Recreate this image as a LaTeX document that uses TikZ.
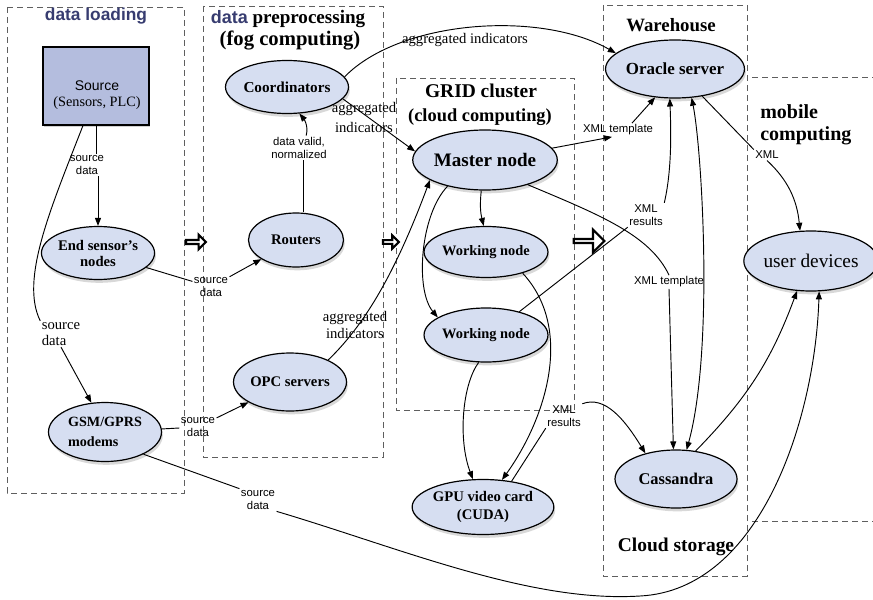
\documentclass[tikz,border=0pt]{standalone}
\usepackage{fontspec}
\setmainfont{Liberation Serif}
\setsansfont{Liberation Sans}
\usetikzlibrary{shapes.geometric,shapes.arrows,arrows.meta,shadows,calc}
\definecolor{elfill}{RGB}{214,222,241}
\definecolor{srcfill}{RGB}{180,189,222}
\definecolor{navy}{RGB}{55,60,112}
\definecolor{boxgray}{RGB}{95,95,95}
\tikzset{
  el/.style 2 args={ellipse, draw=black, line width=0.9pt, fill=elfill,
    minimum width=#1*0.75pt, minimum height=#2*0.75pt, inner sep=0pt, align=center,
    drop shadow={opacity=0.3, shadow xshift=1pt, shadow yshift=-2.5pt}},
  grp/.style={draw=boxgray, dash pattern=on 4.5pt off 3pt, line width=0.6pt},
  conn/.style={draw=black, line width=0.7pt},
  arr/.style={conn, -{Triangle[length=6pt,width=4.5pt]}},
  dbl/.style={conn, {Triangle[length=6pt,width=4.5pt]}-{Triangle[length=6pt,width=4.5pt]}},
  slbl/.style={font=\sffamily\fontsize{8.5}{10}\selectfont, align=center, inner sep=1pt},
  rlbl/.style={font=\fontsize{11}{13}\selectfont, align=center, inner sep=1pt},
  ttl/.style={inner sep=0pt, align=center},
  harr/.style={single arrow, draw=black, line width=1.6pt, fill=white, inner sep=0pt}
}
\begin{document}
\begin{tikzpicture}[x=0.75pt,y=-0.75pt]
\useasboundingbox (0,0) rectangle (873,599);
\fill[white] (0,0) rectangle (873,599);

% group boxes
\draw[grp] (7,7) rectangle (184,493);
\draw[grp] (203,6) rectangle (383,457);
\draw[grp] (396,78) rectangle (574,410);
\draw[grp] (603,5) rectangle (747,576);
\draw[grp] (752,77) -- (873,77);
\draw[grp] (752,521) -- (873,521);

% titles
\node[ttl, font=\sffamily\bfseries\fontsize{13}{15}\selectfont, text=navy] (t1) at (96,16) {data loading};
\node[ttl, font=\bfseries\fontsize{14.3}{17}\selectfont] (t2) at (288,19) {{\sffamily\fontsize{13.5}{17}\selectfont\color{navy}data} preprocessing};
\node[ttl, font=\bfseries\fontsize{15.5}{18}\selectfont] (t2b) at (290,41) {(fog computing)};
\node[ttl, font=\bfseries\fontsize{14.6}{17}\selectfont] (t3) at (481,91) {GRID cluster};
\node[ttl, font=\bfseries\fontsize{13.8}{17}\selectfont] (t3b) at (480,117) {(cloud computing)};
\node[ttl, font=\bfseries\fontsize{14.1}{17}\selectfont] (t4) at (671,25) {Warehouse};
\node[ttl, anchor=west, align=left, font=\bfseries\fontsize{15}{16.5}\selectfont] (t5) at (760,125) {mobile\\computing};
\node[ttl, font=\bfseries\fontsize{14.6}{17}\selectfont] (t6) at (676,547) {Cloud storage};

% hollow arrows
\node[harr, minimum height=15pt, minimum width=11pt, single arrow head extend=2.2pt] (h1) at (195,242) {};
\node[harr, minimum height=12pt, minimum width=10pt, single arrow head extend=2pt] (h2) at (390,242) {};
\node[harr, minimum height=23pt, minimum width=17pt, single arrow head extend=3.6pt] (h3) at (588,241) {};

% source
\node[draw=black, line width=0.8pt, fill=srcfill, minimum width=106*0.75pt, minimum height=78*0.75pt,
  drop shadow={opacity=0.35, shadow xshift=1pt, shadow yshift=-1.5pt}] (src) at (96,86) {};
\node[align=center, inner sep=0pt, font=\fontsize{10.7}{11.5}\selectfont] (srct) at (97,95)
  {{\sffamily\fontsize{10.5}{11.5}\selectfont Source}\\(Sensors, PLC)};

% ellipses
\node[el={107}{53}, font=\bfseries\fontsize{11}{12}\selectfont] (esn) at (98,253) {End sensor's\\nodes};
\node[el={113}{59}, align=left, font=\bfseries\fontsize{10.6}{15}\selectfont] (gsm) at (105,432) {GSM/GPRS\\modems};
\node[el={113}{53}, font=\bfseries\fontsize{11.4}{13}\selectfont] (coords) at (287,87) {Coordinators};
\node[el={95}{54}, font=\bfseries\fontsize{11}{13}\selectfont] (routers) at (296,240) {Routers};
\node[el={113}{58}, font=\bfseries\fontsize{11}{13}\selectfont] (opc) at (290,382) {OPC servers};
\node[el={139}{60}, font=\bfseries\fontsize{14.3}{17}\selectfont] (master) at (485,160) {Master node};
\node[el={112}{51}, font=\bfseries\fontsize{10.8}{13}\selectfont] (wn1) at (486,252) {Working node};
\node[el={113}{54}, font=\bfseries\fontsize{10.8}{13}\selectfont] (wn2) at (486,335) {Working node};
\node[el={113}{55}, font=\bfseries\fontsize{11}{13.5}\selectfont] (gpu) at (483,507) {GPU video card\\(CUDA)};
\node[el={115}{58}, font=\bfseries\fontsize{12.7}{15}\selectfont] (oracle) at (675,69) {Oracle server};
\node[el={115}{60}, font=\fontsize{14.5}{17}\selectfont] (ud) at (811,261) {user devices};
\node[el={122}{58}, font=\bfseries\fontsize{12.3}{15}\selectfont] (cass) at (676,479) {Cassandra};

% edge labels
\node[slbl] (l1) at (87,165) {source\\data};
\node[rlbl, align=left, font=\fontsize{11}{12}\selectfont] (l2) at (61,334) {source\\data};
\node[slbl] (l3) at (211,287) {source\\data};
\node[slbl] (l4) at (198,427) {source\\data};
\node[slbl] (l5) at (258,500) {source\\data};
\node[slbl] (l6) at (299,148) {data valid,\\normalized};
\node[rlbl] (l7) at (465,40) {aggregated indicators};
\node[rlbl, font=\fontsize{11}{15}\selectfont] (l8) at (364,117) {aggregated\\indicators};
\node[rlbl, font=\fontsize{11}{12.7}\selectfont] (l9) at (355,325) {aggregated\\indicators};
\node[slbl] (l12) at (618,130) {XML template};
\node[slbl] (l13) at (669,282) {XML template};
\node[slbl] (l14) at (646,215) {XML\\results};
\node[slbl] (l17) at (564,416) {XML\\results};
\node[slbl] (l19) at (767,155) {XML};

% connectors
\draw[conn] (src.south) -- (src.south |- l1.north);
\draw[arr] (esn.north |- l1.south) -- (esn.north);
\draw[conn] ($(src.south)+(-13,0)$) .. controls (50,210) and (20,280) .. (l2.north west);
\draw[arr] (l2.south) -- (gsm.115);
\draw[conn] (esn) -- (l3);
\draw[arr] (l3) -- (routers);
\draw[conn] (gsm) -- (l4);
\draw[arr] (l4) -- (opc);
\draw[conn] (gsm.-30) -- (l5.north west);
\draw[arr] (l5.south east) .. controls (400,548) and (530,603) .. (640,596) .. controls (760,590) and (815,420) .. (ud.-75);
\draw[conn] (l6.-70) -- (l6.-70 |- routers.north);
\draw[arr] (l6.60) .. controls (309,125) and (303,118) .. (coords.-65);
\draw[arr] (coords.10) .. controls (400,20) and (540,10) .. (oracle.165);
\draw[arr] (coords.-12) -- (master.173);
\draw[arr] (opc.30) .. controls (370,320) and (400,260) .. (master.-160);
\draw[arr] (master.10) -- ($(l12.south)+(-6,0)$);
\draw[arr] ($(l12.north)+(14,0)$) -- (oracle.-125);
\draw[conn] (master.-30) .. controls (600,215) and (650,235) .. (l13.north);
\draw[arr] (l13.south) -- (cass.95);
\draw[conn] (wn2.35) -- (l14.south west);
\draw[arr] (l14.north east) .. controls (672,170) and (671,130) .. (oracle.-100);
\draw[conn] (gpu.42) -- (l17.south west);
\draw[arr] (l17.north east) .. controls (605,395) and (625,420) .. (cass.140);
\draw[conn] (oracle.-45) -- (l19.north west);
\draw[arr] (l19.south) .. controls (788,180) and (797,200) .. (ud.110);
\draw[arr] (master.-97) to[bend right=10] (wn1.95);
\draw[arr] (master.-145) .. controls (420,215) and (415,290) .. (wn2.160);
\draw[arr] (wn1.-30) .. controls (575,330) and (545,420) .. (gpu.55);
\draw[arr] (wn2.-105) .. controls (462,385) and (458,440) .. (gpu.110);
\draw[dbl] (oracle.-60) .. controls (702,150) and (714,350) .. (cass.70);
\draw[arr] (cass.55) to[bend right=12] (ud.-115);
\end{tikzpicture}
\end{document}
